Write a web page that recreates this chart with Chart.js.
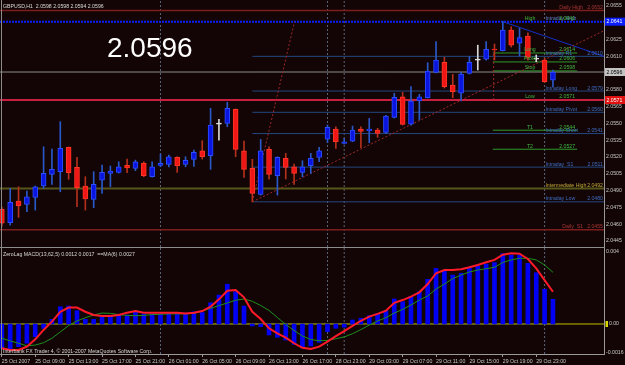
<!DOCTYPE html>
<html>
<head>
<meta charset="utf-8">
<script src="https://cdn.jsdelivr.net/npm/chart.js@4.4.1/dist/chart.umd.min.js"></script>
<style>
html,body{margin:0;padding:0;background:#130505;}
#wrap{position:relative;width:625px;height:365px;background:#130505;overflow:hidden;}
canvas{position:absolute;left:0;}
#main{top:0;width:625px;height:247px;}
#macd{top:247px;width:625px;height:118px;}
#lb{position:absolute;left:1px;top:0;width:1px;height:355px;background:#8c8c8c;}
#sep{position:absolute;left:0;top:247px;width:605px;height:1px;background:#8c8c8c;}
</style>
</head>
<body>
<div id="wrap">
<canvas id="main" width="625" height="247"></canvas>
<canvas id="macd" width="625" height="118"></canvas>
<div id="lb"></div><div id="sep"></div>
</div>
<script>
// ---------------- DATA ----------------
const symbolName = 'GBPUSD,H1';
const headerOHLC = ['2.0598', '2.0598', '2.0594', '2.0596'];

const opens  = [2.04735,2.04613,2.04807,2.04777,2.0484,2.04943,2.05045,2.05069,2.05287,2.05108,2.04941,2.04822,2.04994,2.05054,2.05063,2.05126,2.05099,2.05144,2.05024,2.05126,2.05135,2.05197,2.05135,2.0518,2.05256,2.05212,2.05495,2.05501,2.05627,2.05256,2.05099,2.04867,2.05269,2.05033,2.05188,2.05113,2.05063,2.05122,2.05197,2.05361,2.0545,2.05323,2.05343,2.0545,2.05435,2.05441,2.05421,2.05555,2.05739,2.05495,2.05703,2.0573,2.05957,2.06047,2.05844,2.0577,2.05948,2.06067,2.06074,2.06166,2.0615,2.06335,2.06217,2.06282,2.06074,2.06067,2.05888];
const highs  = [2.04753,2.0492,2.04935,2.04896,2.04941,2.05292,2.05272,2.05516,2.0529,2.05197,2.05024,2.05069,2.05129,2.0512,2.05158,2.05182,2.05173,2.05158,2.05158,2.05227,2.05218,2.05203,2.05203,2.05263,2.05346,2.05635,2.05537,2.05689,2.0563,2.05343,2.0518,2.05358,2.05292,2.05203,2.05233,2.05138,2.05167,2.05233,2.05287,2.05486,2.05471,2.05367,2.05477,2.05471,2.05546,2.05457,2.05572,2.0577,2.05778,2.05829,2.0576,2.06043,2.06231,2.06091,2.05939,2.0596,2.06097,2.0620,2.06231,2.0621,2.0641,2.06365,2.06351,2.06311,2.06112,2.06085,2.05978];
const lows   = [2.04583,2.04592,2.04661,2.04711,2.04726,2.0492,2.04956,2.0489,2.05001,2.04756,2.04726,2.04747,2.04876,2.04935,2.05057,2.0506,2.05078,2.05024,2.05021,2.05113,2.05113,2.05063,2.05113,2.05117,2.05182,2.0509,2.05352,2.05471,2.05203,2.05019,2.0480,2.0486,2.05003,2.0486,2.05004,2.04956,2.05024,2.05054,2.05158,2.05328,2.05278,2.05316,2.05337,2.05283,2.05328,2.05376,2.05412,2.05549,2.05486,2.05486,2.05531,2.05728,2.05951,2.05817,2.0573,2.05701,2.05942,2.05978,2.06067,2.06067,2.06148,2.06183,2.06103,2.06067,2.06052,2.05866,2.05829];
const closes = [2.0461,2.04795,2.04765,2.04845,2.04935,2.05054,2.0509,2.05278,2.0506,2.04926,2.04825,2.04956,2.05063,2.05075,2.05113,2.05104,2.05158,2.05033,2.05113,2.05144,2.05203,2.05122,2.05171,2.05242,2.05203,2.05486,2.05495,2.05635,2.05269,2.0509,2.04876,2.05256,2.05045,2.05197,2.05108,2.05054,2.05113,2.05188,2.05256,2.05466,2.05337,2.05337,2.05441,2.0543,2.0545,2.05412,2.05567,2.05734,2.05492,2.05701,2.05739,2.05969,2.06067,2.05829,2.05784,2.05942,2.06047,2.06067,2.06163,2.06157,2.06335,2.06201,2.06267,2.06091,2.06074,2.05873,2.0596];

const macdHist = [-0.00135,-0.00144,-0.00126,-0.00107,-0.00071,-0.00024,0.00026,0.00096,0.00100,0.00074,0.00026,0.00026,0.00041,0.00046,0.00050,0.00050,0.00068,0.00056,0.00056,0.00056,0.00059,0.00056,0.00056,0.00068,0.00064,0.00118,0.00161,0.00221,0.00179,0.00100,-0.00011,-0.00015,-0.00061,-0.00074,-0.00089,-0.00113,-0.00132,-0.00122,-0.00102,-0.00043,-0.00024,-0.00018,0.00022,0.00032,0.00046,0.00056,0.00074,0.00139,0.00124,0.00152,0.00179,0.00248,0.00309,0.00296,0.00272,0.00282,0.00309,0.00322,0.00333,0.00341,0.00391,0.00383,0.00383,0.00337,0.00285,0.00193,0.00137];
const macdLine = [-0.00135,-0.00144,-0.00144,-0.00126,-0.00085,-0.00033,0.00013,0.00068,0.00091,0.00091,0.00068,0.00050,0.00044,0.00044,0.00050,0.00063,0.00072,0.00063,0.00063,0.00063,0.00063,0.00063,0.00059,0.00063,0.00072,0.00096,0.00137,0.00185,0.00189,0.00148,0.00068,0.00028,-0.00024,-0.00052,-0.00076,-0.00107,-0.00132,-0.00139,-0.00126,-0.00098,-0.00067,-0.00039,-0.00011,0.00018,0.00041,0.00056,0.00074,0.00118,0.00133,0.00152,0.00176,0.00222,0.00282,0.00300,0.00300,0.00304,0.00315,0.00328,0.00343,0.00356,0.00385,0.00393,0.00391,0.00361,0.00309,0.00244,0.00179];
const macdSignal = [-0.00079,-0.00094,-0.00107,-0.00121,-0.00117,-0.00104,-0.00079,-0.00044,-0.00009,0.00017,0.00035,0.00050,0.00061,0.00059,0.00052,0.00048,0.00046,0.00048,0.00052,0.00054,0.00056,0.00056,0.00057,0.00059,0.00072,0.00087,0.00102,0.00117,0.00132,0.00139,0.00126,0.00103,0.00075,0.00036,-0.00003,-0.00036,-0.00067,-0.00086,-0.00093,-0.00091,-0.00082,-0.00072,-0.00054,-0.00031,-0.00006,0.00017,0.00035,0.00061,0.00081,0.00106,0.00133,0.00156,0.00194,0.00222,0.00252,0.00272,0.00289,0.00300,0.00307,0.00315,0.00342,0.00356,0.00365,0.00365,0.00356,0.00328,0.00287];
const macdTitle = 'ZeroLag MACD(13,62,5) 0.0012 0.0017  ==MA(6) 0.0027';
const footerText = 'Interbank FX Trader 4, \u00A9 2001-2007 MetaQuotes Software Corp.';

const timeTickBars = [0,4,8,12,16,20,24,28,32,36,40,44,48,52,56,60,64];
const timeLabels = ['25 Oct 2007','25 Oct 09:00','25 Oct 13:00','25 Oct 17:00','25 Oct 21:00','26 Oct 01:00','26 Oct 05:00','26 Oct 09:00','26 Oct 13:00','26 Oct 17:00','28 Oct 23:00','29 Oct 03:00','29 Oct 07:00','29 Oct 11:00','29 Oct 15:00','29 Oct 19:00','29 Oct 23:00'];
const daySeparatorBars = [19, 39, 41, 65];

const priceTicks = [2.0655,2.0625,2.0610,2.0580,2.0565,2.0550,2.0535,2.0520,2.0505,2.0490,2.0475,2.0460,2.0445];
const macdTicks = [0.004, 0, -0.0016];
const macdTickLabels = ['0.004', '  0.00', '-0.0016'];

// pivot / level lines
const pivotNames   = ['Daily High','Intraday High','Intraday R1','Intraday Long','','Intraday Pivot','Intraday Short','Intraday  S1','Intermediate High','Intraday Low','Daily  S1'];
const pivotPrices  = [2.0651,2.0641,2.0610,2.0579,2.0571,2.0560,2.0541,2.0511,2.0492,2.0480,2.0455];
const pivotTexts   = ['2.0652','','2.0610','2.0579','','2.0560','2.0541','2.0511','2.0492','2.0480','2.0455'];
const pivotFromBar = [null,null,30,30,null,30,30,30,null,30,null];
const pivotKinds   = ['daily','high','intra','intra','low','intra','intra','intra','inter','intra','daily'];

// trade targets
const targetNames  = ['High','Long','Profit','Stop','Low','T1','T2'];
const targetPrices = [2.0641,2.0613,2.0605,2.0597,2.0571,2.0544,2.0527];
const targetTexts  = ['2.0641','2.0614','2.0606','2.0598','2.0571','2.0544','2.0527'];
const targetHasLine = [false,true,true,true,false,true,true];
const targetSpanBars = [58.8, 68.9];

// trend lines
const trendUpBars = [30, 72.115], trendUpPrices = [2.0480, 2.06329];
const trendSteepBars = [30, 35.05], trendSteepPrices = [2.0480, 2.0641];
const trendDownBars = [60, 72.115], trendDownPrices = [2.0641, 2.0610];
const dropBars = [58.9, 58.9], dropPrices = [2.0571, 2.0614];

// axis tags on price scale
const tagPrices = [2.0641, closes[closes.length - 1], 2.0571];
const tagKinds = ['blue', 'bid', 'red'];

// ---------------- STYLE / LAYOUT ----------------
const FONT = '"Liberation Sans", Arial, sans-serif';
const FS = 5.2;
const xMin = -0.22, xMax = 72.115;
const yMin = 2.043963, yMax = 2.066036;
const mMin = -0.0016667, mMax = 0.0042222;
const lineStyle = {
  daily: {color:'#7c1e1e', width:1.5, dash:[]},
  high:  {color:'#0a1eff', width:2, dash:[2,1]},
  intra: {color:'#24477f', width:1, dash:[]},
  inter: {color:'#56561a', width:2, dash:[]},
  low:   {color:'#c81e40', width:2, dash:[]},
  bid:   {color:'#8c8c8c', width:1, dash:[]},
  target:{color:'#2e9a2e', width:1, dash:[]}
};
const labelColor = {daily:'#a83434', high:'#5a80c8', intra:'#3d6cc0', inter:'#c0a838', low:'#3cb43c', target:'#40b840'};
const tagStyle = {blue:{bg:'#0a1eff', fg:'#ffffff'}, bid:{bg:'#c4c4c4', fg:'#000000'}, red:{bg:'#e01010', fg:'#ffffff'}};

Chart.defaults.font.family = FONT;
Chart.defaults.font.size = FS;

const N = opens.length;
const idx = opens.map((_, i) => i);
const dir = idx.map(i => closes[i] > opens[i] ? 1 : (closes[i] < opens[i] ? -1 : 0));
const bodyFill   = dir.map(d => d > 0 ? '#0a16e0' : d < 0 ? '#f01616' : '#e6e6e6');
const bodyBorder = dir.map(d => d > 0 ? '#2c4cff' : d < 0 ? '#ff3626' : '#e6e6e6');
const wickCol    = dir.map(d => d > 0 ? '#2a58c8' : d < 0 ? '#b4301c' : '#d6d6d6');

function hline(x0, x1, p, st, order) {
  return {type:'line', data:[{x:x0, y:p}, {x:x1, y:p}], borderColor:st.color, borderWidth:st.width,
    borderDash:st.dash || [], pointRadius:0, order:order};
}
function seg(xs, ys, color, width, dash, order) {
  return {type:'line', data:[{x:xs[0], y:ys[0]}, {x:xs[1], y:ys[1]}], borderColor:color, borderWidth:width,
    borderDash:dash, pointRadius:0, order:order};
}

// ---------------- MAIN CHART ----------------
const mainSets = [];
daySeparatorBars.forEach(b => mainSets.push(seg([b, b], [yMin, yMax], '#5c6474', 1, [2,2], 9)));
pivotPrices.forEach((p, i) => mainSets.push(hline(pivotFromBar[i] === null ? xMin : pivotFromBar[i], xMax, p, lineStyle[pivotKinds[i]], 8)));
mainSets.push(hline(xMin, xMax, closes[N - 1], lineStyle.bid, 8));
targetPrices.forEach((p, i) => { if (targetHasLine[i]) mainSets.push(hline(targetSpanBars[0], targetSpanBars[1], p, lineStyle.target, 7)); });
mainSets.push(seg(trendUpBars, trendUpPrices, '#a02828', 1, [2,2], 6));
mainSets.push(seg(trendSteepBars, trendSteepPrices, '#a02828', 1, [2,2], 6));
mainSets.push(seg(dropBars, dropPrices, '#a02828', 1, [2,2], 6));
mainSets.push(seg(trendDownBars, trendDownPrices, '#1430c8', 1, [], 6));
mainSets.push({type:'bar', data: idx.map(i => ({x:i, y:[lows[i], highs[i]]})), backgroundColor: wickCol,
  barThickness:1, grouped:false, order:2});
mainSets.push({type:'bar', data: idx.map(i => ({x:i, y:[opens[i], closes[i]]})), backgroundColor: bodyFill,
  borderColor: bodyBorder, borderWidth:1, borderSkipped:false, barThickness:5, minBarLength:1, grouped:false, order:1});

const mainText = {
  id:'mainText',
  afterDatasetsDraw(chart) {
    const {ctx, scales:{x, y}} = chart;
    ctx.save();
    ctx.font = FS + 'px ' + FONT;
    ctx.textBaseline = 'alphabetic';
    pivotNames.forEach((n, i) => {
      const py = y.getPixelForValue(pivotPrices[i]) - 1.5;
      ctx.fillStyle = labelColor[pivotKinds[i]];
      if (n) {
        if (pivotKinds[i] === 'daily') { ctx.textAlign = 'right'; ctx.fillText(n, x.getPixelForValue(69.6), py); }
        else { ctx.textAlign = 'left'; ctx.fillText(n, x.getPixelForValue(65.1), py); }
      }
      if (pivotTexts[i]) { ctx.textAlign = 'right'; ctx.fillText(pivotTexts[i], x.right - 1, py); }
    });
    targetNames.forEach((n, i) => {
      const py = y.getPixelForValue(targetPrices[i]) - 1.5;
      ctx.fillStyle = labelColor.target;
      ctx.textAlign = 'center';
      ctx.fillText(n, x.getPixelForValue(63.25), py);
      ctx.fillText(targetTexts[i], x.getPixelForValue(67.7), py);
    });
    ctx.textAlign = 'left';
    ctx.fillStyle = '#dcdcdc';
    ctx.fillText(symbolName + '  ' + headerOHLC.join(' '), 3, 7.5);
    ctx.font = '28px ' + FONT;
    ctx.fillStyle = '#ffffff';
    ctx.fillText(closes[N - 1].toFixed(4), 107, 57);
    ctx.restore();
  },
  afterDraw(chart) {
    const {ctx, scales:{y}} = chart;
    ctx.save();
    ctx.font = FS + 'px ' + FONT;
    ctx.textBaseline = 'middle';
    ctx.textAlign = 'left';
    tagPrices.forEach((p, i) => {
      const py = y.getPixelForValue(p);
      const st = tagStyle[tagKinds[i]];
      ctx.fillStyle = st.bg;
      ctx.fillRect(y.left + 1, py - 4, 20, 8);
      ctx.fillStyle = st.fg;
      ctx.fillText(p.toFixed(4), y.left + 2.5, py + 0.3);
    });
    ctx.restore();
  }
};

new Chart(document.getElementById('main'), {
  type:'bar',
  data:{datasets: mainSets},
  options:{
    responsive:false, animation:false, events:[],
    layout:{padding:0},
    plugins:{legend:{display:false}, tooltip:{enabled:false}},
    scales:{
      x:{type:'linear', min:xMin, max:xMax, offset:false, display:false, grid:{display:false}},
      y:{type:'linear', position:'right', min:yMin, max:yMax,
        afterBuildTicks: s => { s.ticks = priceTicks.map(v => ({value:v})); },
        afterFit: s => { s.width = 21; s.paddingTop = 0; s.paddingBottom = 0; },
        ticks:{autoSkip:false, padding:2, color:'#c8c8c8', font:{size:FS}, callback: v => Number(v).toFixed(4)},
        grid:{display:false, drawTicks:false},
        border:{display:true, color:'#9a9a9a', width:1}}
    }
  },
  plugins:[mainText]
});

// ---------------- MACD CHART ----------------
const macdSets = [];
daySeparatorBars.forEach(b => macdSets.push(seg([b, b], [mMin, mMax], '#5c6474', 1, [2,2], 9)));
macdSets.push(hline(xMin, xMax, 0, {color:'#c0c000', width:1, dash:[]}, 8));
macdSets.push({type:'bar', data: idx.map(i => ({x:i, y:macdHist[i]})), backgroundColor:'#0000f2',
  barThickness:4, grouped:false, order:5});
macdSets.push({type:'line', data: idx.map(i => ({x:i, y:macdSignal[i]})), borderColor:'#1f8f1f', borderWidth:1,
  pointRadius:0, order:3});
macdSets.push({type:'line', data: idx.map(i => ({x:i, y:macdLine[i]})), borderColor:'#ff1a2a', borderWidth:2,
  pointRadius:0, order:2});

const macdText = {
  id:'macdText',
  afterDatasetsDraw(chart) {
    const {ctx} = chart;
    ctx.save();
    ctx.font = FS + 'px ' + FONT;
    ctx.textBaseline = 'alphabetic';
    ctx.textAlign = 'left';
    ctx.fillStyle = '#d8d8d8';
    ctx.fillText(macdTitle, 3, 8.5);
    ctx.fillText(footerText, 3, 106);
    ctx.restore();
  },
  afterDraw(chart) {
    const {ctx, scales:{y}} = chart;
    ctx.save();
    ctx.fillStyle = '#d8d800';
    const py = y.getPixelForValue(0);
    ctx.fillRect(y.left + 1.5, py - 3, 2.5, 6);
    ctx.restore();
  }
};

new Chart(document.getElementById('macd'), {
  type:'bar',
  data:{datasets: macdSets},
  options:{
    responsive:false, animation:false, events:[],
    layout:{padding:{top:1, left:0, right:0, bottom:0}},
    plugins:{legend:{display:false}, tooltip:{enabled:false}},
    scales:{
      x:{type:'linear', position:'bottom', min:xMin, max:xMax, offset:false,
        afterBuildTicks: s => { s.ticks = timeTickBars.map(v => ({value:v})); },
        afterFit: s => { s.height = 11; s.paddingLeft = 0; s.paddingRight = 0; },
        ticks:{autoSkip:false, maxRotation:0, minRotation:0, align:'start', padding:1, color:'#c8c8c8',
          font:{size:FS}, callback: (v, i) => timeLabels[i]},
        grid:{display:true, drawOnChartArea:false, drawTicks:true, tickLength:3, color:'#9a9a9a', offset:false},
        border:{display:true, color:'#9a9a9a', width:1}},
      y:{type:'linear', position:'right', min:mMin, max:mMax,
        afterBuildTicks: s => { s.ticks = macdTicks.map(v => ({value:v})); },
        afterFit: s => { s.width = 21; s.paddingTop = 0; s.paddingBottom = 0; },
        ticks:{autoSkip:false, padding:2, color:'#c8c8c8', font:{size:FS}, callback: (v, i) => macdTickLabels[i]},
        grid:{display:false, drawTicks:false},
        border:{display:true, color:'#9a9a9a', width:1}}
    }
  },
  plugins:[macdText]
});
</script>
</body>
</html>
